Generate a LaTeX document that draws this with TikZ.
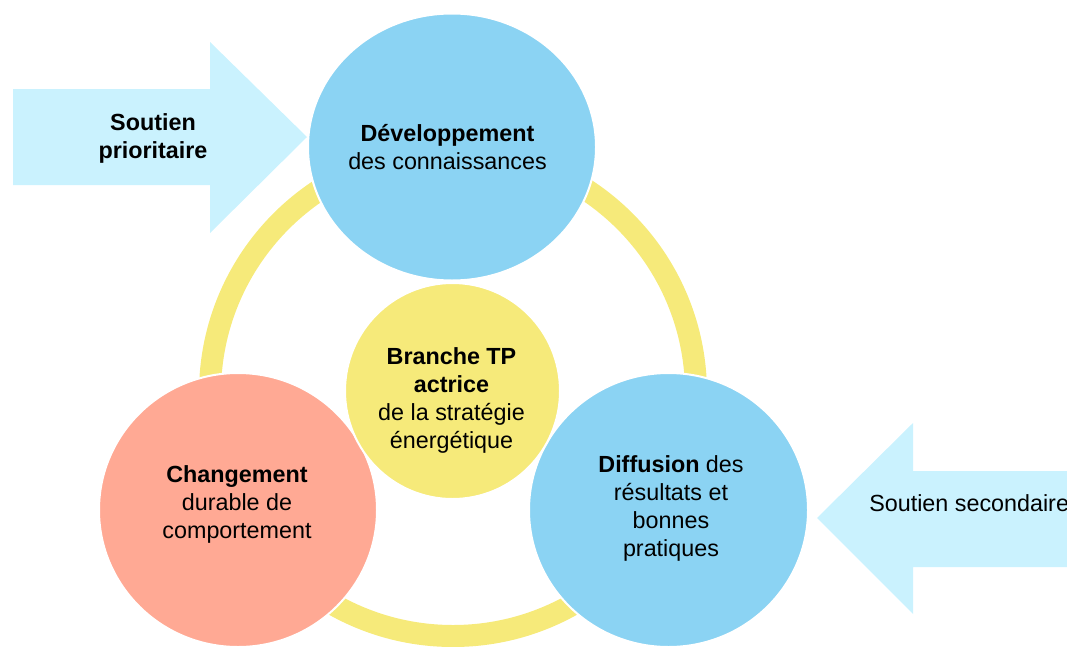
\documentclass[tikz,border=0pt]{standalone}
\usepackage{fontspec}
\setmainfont{Liberation Sans}
\usetikzlibrary{shapes.geometric}
\definecolor{arrowcyan}{HTML}{CAF2FE}
\definecolor{bubbleblue}{HTML}{8BD3F3}
\definecolor{bubblesalmon}{HTML}{FFA994}
\definecolor{ringyellow}{HTML}{F6EA7A}
\begin{document}
\begin{tikzpicture}[x=0.75pt,y=-0.75pt,
  bubble/.style={ellipse, draw=white, line width=1.5pt, inner sep=0pt},
  lbl/.style={align=center, font=\fontsize{17.5pt}{21pt}\selectfont, inner sep=0pt},
  support/.style={fill=arrowcyan}]
\useasboundingbox (0,0) rectangle (1067,646);
% ring
\draw[ringyellow, line width=16.5pt] (453,393) circle[radius=182.25pt];
% support arrows
\fill[support] (13,89) -- (210,89) -- (210,42) -- (307,137) -- (210,233) -- (210,185) -- (13,185) -- cycle;
\fill[support] (1090,471) -- (913,471) -- (913,423) -- (817,518) -- (913,614) -- (913,567) -- (1090,567) -- cycle;
% bubbles
\node[bubble, fill=bubbleblue, minimum width=216pt, minimum height=200.25pt] (dev) at (452,147) {};
\node[bubble, fill=bubblesalmon, minimum width=208.5pt, minimum height=205.5pt] (chg) at (238,510) {};
\node[bubble, fill=bubbleblue, minimum width=209.25pt, minimum height=205.5pt] (dif) at (668.5,510) {};
\node[bubble, fill=ringyellow, minimum width=161.25pt, minimum height=162pt] (ctr) at (452.5,391) {};
% labels
\node[lbl] (devt) at (447.5,147.5) {\textbf{Développement}\\des connaissances};
\node[lbl] (ctrt) at (451.5,400.5) {\textbf{Branche TP}\\\textbf{actrice}\\de la stratégie\\énergétique};
\node[lbl] (chgt) at (237,504) {\textbf{Changement}\\durable de\\comportement};
\node[lbl] (dift) at (671,508.5) {\textbf{Diffusion} des\\résultats et\\bonnes\\pratiques};
\node[lbl] (sp) at (153,138) {\textbf{Soutien}\\\textbf{prioritaire}};
\node[lbl, anchor=west] (ss) at (869,503) {Soutien secondaire};
\end{tikzpicture}
\end{document}
